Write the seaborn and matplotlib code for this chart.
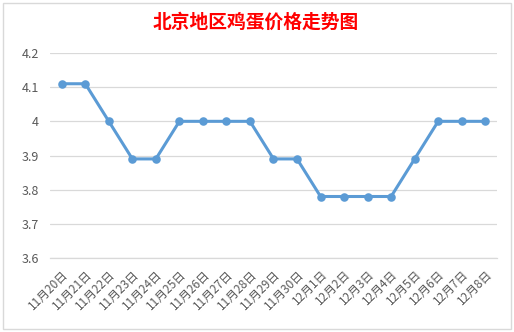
import matplotlib
matplotlib.use("Agg")
import matplotlib.pyplot as plt
import seaborn as sns
import pandas as pd
import numpy as np
from matplotlib.patches import Rectangle

dates = ["11月20日", "11月21日", "11月22日", "11月23日", "11月24日", "11月25日",
         "11月26日", "11月27日", "11月28日", "11月29日", "11月30日", "12月1日",
         "12月2日", "12月3日", "12月4日", "12月5日", "12月6日", "12月7日", "12月8日"]
prices = [4.11, 4.11, 4.00, 3.89, 3.89, 4.00, 4.00, 4.00, 4.00, 3.89, 3.89,
          3.78, 3.78, 3.78, 3.78, 3.89, 4.00, 4.00, 4.00]
yticks = [3.6, 3.7, 3.8, 3.9, 4.0, 4.1, 4.2]
ytick_labels = ["3.6", "3.7", "3.8", "3.9", "4", "4.1", "4.2"]
title = "北京地区鸡蛋价格走势图"

sns.set_theme(style="white")
plt.rcParams['font.family'] = ['Noto Sans CJK SC', 'DejaVu Sans']

W, H = 514, 332
fig = plt.figure(figsize=(W / 100, H / 100), dpi=100)
fig.patch.set_facecolor("white")

# chart frame
fig.patches.append(Rectangle((3 / W, 3 / H), (511 - 3) / W, (329 - 3) / H,
                             transform=fig.transFigure, fill=False,
                             edgecolor="#D9D9D9", linewidth=1.0))

ax = fig.add_axes([50 / W, (H - 258) / H, (497 - 50) / W, (258 - 53) / H])
ax.set_facecolor("none")

df = pd.DataFrame({"date": pd.Categorical(dates, categories=dates, ordered=True),
                   "price": prices})
sns.pointplot(data=df, x="date", y="price", ax=ax, color="#5B9BD5",
              markers="o", markersize=4.5, linewidth=2.2, errorbar=None)

ax.set_xlim(-0.5, len(dates) - 0.5)
ax.set_ylim(3.6, 4.2)
ax.set_yticks(yticks)
ax.set_yticklabels(ytick_labels)
ax.yaxis.grid(True, color="#D9D9D9", linewidth=0.9)
ax.set_axisbelow(True)
for s in ["left", "right", "top"]:
    ax.spines[s].set_visible(False)
ax.spines["bottom"].set_color("#D9D9D9")
ax.spines["bottom"].set_linewidth(0.9)
ax.set_xlabel("")
ax.set_ylabel("")

ax.set_xticks(np.arange(len(dates)))
ax.set_xticklabels(dates, rotation=45, ha="right", rotation_mode="anchor",
                   fontsize=8.5, color="#595959")
ax.set_xticks(np.arange(-0.5, len(dates), 1.0), minor=True)
ax.tick_params(axis="x", which="major", length=0, pad=7)
ax.tick_params(axis="x", which="minor", length=4, color="#D9D9D9", width=0.9,
               direction="out")
ax.tick_params(axis="y", length=0, pad=8, labelsize=9, labelcolor="#595959")

fig.text(256 / W, 1 - 22 / H, title, ha="center", va="center",
         fontsize=13.5, fontweight="bold", color="#FF0000")

fig.savefig("out.png", dpi=100)
